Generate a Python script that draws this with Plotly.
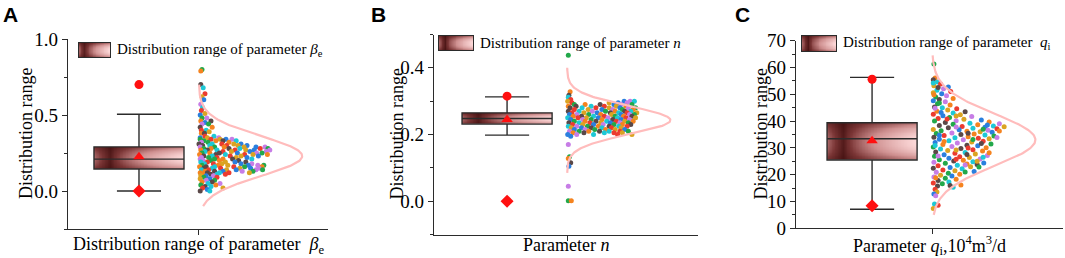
import numpy as np
import plotly.graph_objects as go

# ---------------- data ----------------
panel_letters = ["A", "B", "C"]
legend_texts = [
    "Distribution range of parameter <i>β</i><sub>e</sub>",
    "Distribution range of parameter <i>n</i>",
    "Distribution range of parameter  <i>q</i><sub>i</sub>",
]
x_titles = [
    "Distribution range of parameter  <i>β</i><sub>e</sub>",
    "Parameter <i>n</i>",
    "Parameter <i>q</i><sub>i</sub>,10<sup>4</sup>m<sup>3</sup>/d",
]
y_title = "Distribution range"

# box statistics per panel (A, B, C)
box_q1 = [0.145, 0.231, 25.5]
box_median = [0.210, 0.248, 33.4]
box_q3 = [0.290, 0.265, 39.4]
box_low = [0.000, 0.198, 7.1]
box_high = [0.505, 0.313, 56.3]
mean_vals = [0.225, 0.245, 32.7]
max_vals = [0.700, 0.315, 55.6]
min_vals = [0.000, 0.000, 8.4]

# fitted normal curve parameters per panel
fit_mean = [0.23, 0.243, 33.0]
fit_sd = [0.13, 0.042, 9.7]
fit_lo = [-0.10, 0.085, 5.0]
fit_hi = [0.70, 0.40, 64.5]

# y tick setup per panel
y_ranges = [[-0.25, 1.0], [-0.1, 0.5], [0, 70]]
y_dtick = [0.5, 0.2, 10]
y_minor = [0.25, 0.1, 5]
y_fmt = [".1f", ".1f", "d"]

# scattered samples (A, B): value levels and horizontal jitter offsets at each level
a_levels = [0.80, 0.79, 0.70, 0.68, 0.64, 0.62, 0.60, 0.57, 0.55, 0.53, 0.51, 0.50,
            0.48, 0.46, 0.45, 0.44, 0.42, 0.40, 0.39, 0.38, 0.36, 0.35,
            0.34, 0.33, 0.32, 0.31, 0.30, 0.29, 0.28, 0.27, 0.26, 0.25, 0.24,
            0.23, 0.22, 0.21, 0.20, 0.19, 0.18, 0.17, 0.16, 0.15, 0.14, 0.13,
            0.12, 0.11, 0.10, 0.09, 0.08, 0.07, 0.06, 0.05, 0.04, 0.03, 0.02,
            0.01, 0.00]
a_offsets = [[0.05], [0.03], [0.03], [0.07], [0.10], [0.05], [0.08], [0.03], [0.06], [0.04], [0.10], [0.02],
             [0.13, 0.05], [0.03, 0.20], [0.10], [0.05, 0.16], [0.22, 0.02], [0.12, 0.04], [0.17], [0.04, 0.09],
             [0.25, 0.10], [0.14, 0.02, 0.33],
             [0.02, 0.20, 0.35, 0.45, 0.55],
             [0.08, 0.28, 0.40, 0.62],
             [0.04, 0.15, 0.50],
             [0.00, 0.22, 0.38, 0.58, 0.70],
             [0.06, 0.18, 0.46, 0.65, 0.80],
             [0.02, 0.26, 0.42, 0.75, 0.95, 1.10],
             [0.08, 0.20, 0.50, 0.68, 1.02, 1.15],
             [0.03, 0.14, 0.30, 0.60, 0.78, 0.92, 1.18],
             [0.10, 0.40, 0.54, 0.85, 1.12],
             [0.05, 0.18, 0.34, 0.64, 0.96, 1.05],
             [0.01, 0.28, 0.44, 0.76, 0.90, 1.14],
             [0.08, 0.22, 0.52, 0.70, 0.99],
             [0.04, 0.16, 0.30, 0.62, 0.80],
             [0.02, 0.26, 0.40, 0.56, 0.88],
             [0.07, 0.20, 0.34, 0.66],
             [0.03, 0.14, 0.44, 0.60, 0.78],
             [0.09, 0.24, 0.38, 0.70, 0.88],
             [0.05, 0.32, 0.48, 0.82, 0.98, 1.08],
             [0.01, 0.12, 0.26, 0.58, 0.76, 1.05],
             [0.08, 0.22, 0.36, 0.68, 0.86, 1.00],
             [0.04, 0.16, 0.46, 0.62, 0.95, 1.06],
             [0.10, 0.26, 0.40, 0.72, 0.90],
             [0.02, 0.14, 0.34, 0.50, 0.84],
             [0.06, 0.20, 0.30, 0.44],
             [0.03, 0.12, 0.24],
             [0.08, 0.30], [0.02, 0.18], [0.12, 0.26], [0.05, 0.22], [0.15, 0.35],
             [0.03, 0.28], [0.10, 0.20], [0.06, 0.40], [0.14], [0.02, 0.18]]

b_levels = [0.438, 0.328, 0.318, 0.312, 0.305, 0.300, 0.295, 0.290, 0.285, 0.280,
            0.275, 0.270, 0.265, 0.260, 0.255, 0.250, 0.245, 0.240, 0.235, 0.230,
            0.225, 0.220, 0.215, 0.210, 0.205, 0.200, 0.195, 0.170, 0.133, 0.128,
            0.115, 0.105, 0.045, 0.001]
b_offsets = [[0.02], [0.05], [0.03], [0.02], [0.06],
             [0.01, 0.95, 1.05, 1.12],
             [0.08, 0.70, 0.85, 1.00],
             [0.12, 0.30, 0.55, 0.78, 0.90, 1.08],
             [0.02, 0.15, 0.40, 0.62, 0.82, 0.98],
             [0.05, 0.25, 0.48, 0.70, 0.88, 1.02, 1.14],
             [0.12, 0.35, 0.58, 0.76, 0.92, 1.10],
             [0.02, 0.20, 0.42, 0.64, 0.80, 0.96, 1.06],
             [0.08, 0.28, 0.50, 0.72, 0.86, 1.00, 1.16],
             [0.04, 0.16, 0.36, 0.56, 0.74, 0.90, 1.04, 1.12],
             [0.10, 0.24, 0.44, 0.62, 0.80, 0.94, 1.08],
             [0.01, 0.18, 0.32, 0.52, 0.68, 0.84, 0.98, 1.14],
             [0.06, 0.26, 0.40, 0.58, 0.76, 0.90, 1.04],
             [0.12, 0.30, 0.48, 0.66, 0.82, 0.96, 1.10],
             [0.03, 0.20, 0.38, 0.56, 0.72, 0.88, 1.02],
             [0.09, 0.26, 0.44, 0.60, 0.78, 0.92, 1.06],
             [0.02, 0.16, 0.34, 0.52, 0.70, 0.86, 1.00],
             [0.07, 0.24, 0.40, 0.58, 0.74, 0.90],
             [0.12, 0.30, 0.46, 0.64, 0.80, 0.96],
             [0.04, 0.20, 0.36, 0.54, 0.70, 0.88, 1.02],
             [0.10, 0.28, 0.62, 0.78, 0.92],
             [0.01, 0.16, 0.44, 0.84, 1.08],
             [0.06], [0.02], [0.04], [0.02], [0.06], [0.03], [0.02], [0.02, 0.07]]

# scattered samples (C): one value and one horizontal jitter per point
c_values = [61.3, 56.1, 55.4, 54.6, 53.8, 53.2, 52.7, 52.1, 51.5, 51.0, 50.6, 50.2, 49.5, 49.0,
            48.4, 48.1, 47.6, 47.2, 46.5, 46.0, 45.3, 45.0, 44.6, 44.1, 43.7, 43.5, 43.0, 42.6,
            42.4, 42.0, 41.7, 41.3, 41.0, 40.7, 40.4, 40.1, 40.0, 39.7, 39.5, 39.2, 39.0, 38.8,
            38.6, 38.4, 38.2, 38.0, 37.9, 37.7, 37.5, 37.3, 37.1, 36.9, 36.8, 36.6, 36.4, 36.2,
            36.0, 35.8, 35.6, 35.4, 35.2, 35.0, 34.8, 34.6, 34.4, 34.2, 34.0, 33.8, 33.6, 33.4,
            33.2, 33.0, 32.7, 32.5, 32.2, 32.0, 31.8, 31.5, 31.3, 31.0, 30.8, 30.5, 30.3, 30.1,
            29.8, 29.6, 29.3, 29.0, 28.8, 28.5, 28.3, 28.0, 27.7, 27.4, 27.2, 26.9, 26.7, 26.4,
            26.1, 25.9, 25.6, 25.4, 25.1, 24.8, 24.6, 24.3, 24.0, 23.8, 23.5, 23.3, 23.0, 22.7,
            22.4, 22.2, 21.8, 21.5, 21.2, 20.9, 20.5, 20.2, 19.8, 19.5, 19.1, 18.7, 18.3, 17.8,
            17.3, 16.9, 16.6, 16.2, 15.8, 15.3, 14.6, 13.5, 12.8, 12.1, 9.1, 8.6, 7.4,
            38.5, 37.8, 37.0, 36.3, 35.5, 34.7, 33.9, 33.1, 32.4, 31.6, 30.9, 30.0, 29.2, 28.2,
            27.5, 26.5, 25.8, 25.0, 24.4, 23.6, 22.9, 40.8, 41.9, 43.2, 44.8, 46.8, 49.8, 52.5,
            54.2, 27.0, 21.0, 18.9, 16.0]
c_jitter = [0.03, 0.05, 0.02, 0.09, 0.14, 0.03, 0.27, 0.19, 0.08, 0.31, 0.02, 0.16, 0.24, 0.06,
            0.35, 0.12, 0.02, 0.22, 0.09, 0.30, 0.04, 0.17, 0.41, 0.26, 0.08, 0.55, 0.35, 0.02,
            0.47, 0.18, 0.66, 0.29, 0.10, 0.53, 0.82, 0.40, 0.04, 0.95, 0.22, 0.63, 1.12, 0.35,
            0.76, 0.12, 1.02, 0.50, 1.20, 0.88, 0.27, 0.68, 1.08, 0.02, 0.45, 0.93, 0.15, 0.58,
            0.80, 1.00, 0.33, 0.07, 0.70, 0.48, 0.88, 0.20, 1.03, 0.60, 0.03, 0.38, 0.77, 0.95,
            0.12, 0.52, 0.28, 0.85, 0.66, 0.05, 0.42, 0.98, 0.18, 0.58, 0.76, 0.33, 0.02, 0.90,
            0.48, 0.14, 0.68, 0.26, 0.84, 0.06, 0.55, 0.38, 0.72, 0.20, 0.92, 0.04, 0.46, 0.62,
            0.28, 0.80, 0.12, 0.52, 0.36, 0.68, 0.03, 0.22, 0.58, 0.75, 0.42, 0.10, 0.64, 0.30,
            0.02, 0.50, 0.18, 0.38, 0.70, 0.07, 0.27, 0.46, 0.14, 0.33, 0.03, 0.22, 0.40, 0.10,
            0.28, 0.02, 0.17, 0.48, 0.09, 0.35, 0.05, 0.08, 0.03, 0.06, 0.04, 0.10, 0.02,
            0.92, 0.40, 0.85, 1.12, 0.60, 0.12, 1.08, 0.68, 0.20, 0.82, 0.05, 0.60, 0.40, 0.95,
            0.58, 0.85, 0.40, 0.75, 0.86, 0.55, 0.78, 0.25, 0.40, 0.15, 0.05, 0.12, 0.03, 0.10,
            0.02, 0.10, 0.55, 0.06, 0.30]


def flatten(levels, offsets):
    vals, jit = [], []
    for lvl, offs in zip(levels, offsets):
        for o in offs:
            vals.append(lvl)
            jit.append(o)
    return vals, jit


a_values, a_jitter = flatten(a_levels, a_offsets)
b_values, b_jitter = flatten(b_levels, b_offsets)
sample_values = [a_values, b_values, c_values]
sample_jitter = [a_jitter, b_jitter, c_jitter]

# ---------------- layout / style ----------------
W, H = 1065, 258
SERIF = "Liberation Serif"
AXC = "#2b2b2b"
palette = ["#22a84a", "#1ec8d6", "#2a7fde", "#f5831f", "#ec3b2f", "#c77de6", "#5a4848", "#dba322"]
grad_scale = [[0.0, "#3a0a0a"], [0.3, "#7a3535"], [0.62, "#cf9090"], [1.0, "#ffdcdc"]]

# plot-area pixel boxes: (left, right, top, bottom)
plot_px = [(68, 328, 39, 229), (434, 698, 34.5, 234.5), (796, 1063, 40.7, 228.3)]
x_ranges = [[-1.183, 3.15], [-1.217, 3.18], [-1.267, 3.18]]
swatch_px = [(79, 110, 43, 57), (439, 473, 36, 50), (802, 836, 36, 51)]
legend_text_px = [(115, 50), (478, 43), (841, 43)]
letter_px = [1, 369, 733]
ytitle_px = [26, 396, 760]
BOX_W = 1.5
AMP = 1.72


def gradient(nx=60, ny=24):
    tx = np.linspace(0, 1, nx)
    ty = np.linspace(0, 1, ny)
    fx = np.where(tx < 0.18, 0.4 * (0.18 - tx) / 0.18, ((tx - 0.18) / 0.82) ** 0.6)
    gy = 1 - 0.45 * np.abs(2 * ty - 1) ** 2
    z = np.outer(gy, 0.1 + 0.9 * fx)
    return tx, ty, z


fig = go.Figure()
for i in range(3):
    sfx = "" if i == 0 else str(i + 1)
    xa, ya = "x" + sfx, "y" + sfx
    # gradient fill of the box
    tx, ty, z = gradient()
    nx, ny = len(tx), len(ty)
    dxc = BOX_W / nx
    dyc = (box_q3[i] - box_q1[i]) / ny
    xs = -BOX_W / 2 + dxc / 2 + tx * (BOX_W - dxc)
    ys = box_q1[i] + dyc / 2 + ty * (box_q3[i] - box_q1[i] - dyc)
    fig.add_trace(go.Heatmap(x=xs, y=ys, z=z, colorscale=grad_scale, zmin=0, zmax=1,
                             showscale=False, zsmooth="best", hoverinfo="skip",
                             xaxis=xa, yaxis=ya))
    fig.add_trace(go.Box(x=[0], q1=[box_q1[i]], median=[box_median[i]], q3=[box_q3[i]],
                         lowerfence=[box_low[i]], upperfence=[box_high[i]],
                         width=BOX_W, whiskerwidth=0.49, fillcolor="rgba(0,0,0,0)",
                         line=dict(color=AXC, width=1.4), boxpoints=False,
                         showlegend=False, xaxis=xa, yaxis=ya))
    # red markers: max, mean, min
    fig.add_trace(go.Scatter(x=[0], y=[max_vals[i]], mode="markers",
                             marker=dict(symbol="circle", size=9, color="#ff1010"),
                             showlegend=False, xaxis=xa, yaxis=ya))
    fig.add_trace(go.Scatter(x=[0], y=[mean_vals[i]], mode="markers",
                             marker=dict(symbol="triangle-up", size=10, color="#ff1010"),
                             showlegend=False, xaxis=xa, yaxis=ya))
    fig.add_trace(go.Scatter(x=[0], y=[min_vals[i]], mode="markers",
                             marker=dict(symbol="diamond", size=10, color="#ff1010"),
                             showlegend=False, xaxis=xa, yaxis=ya))
    # scattered samples
    jit = sample_jitter[i]
    px_ = [1 + o for o in jit]
    cols = [palette[(k * 3 + k // 8) % len(palette)] for k in range(len(px_))]
    fig.add_trace(go.Scatter(x=px_, y=sample_values[i], mode="markers",
                             marker=dict(size=5, color=cols, line=dict(width=0)),
                             showlegend=False, xaxis=xa, yaxis=ya))
    # fitted normal curve
    yy = np.linspace(fit_lo[i], fit_hi[i], 200)
    xx = 1 + AMP * np.exp(-((yy - fit_mean[i]) ** 2) / (2 * fit_sd[i] ** 2))
    fig.add_trace(go.Scatter(x=xx, y=yy, mode="lines",
                             line=dict(color="#ffbcbc", width=2.2),
                             showlegend=False, xaxis=xa, yaxis=ya))

    # legend swatch on its own small axes
    sx = str(i + 4)
    sx0, sx1, sy0, sy1 = swatch_px[i]
    tx2, ty2, z2 = gradient(40, 14)
    fig.add_trace(go.Heatmap(x=tx2, y=ty2, z=z2, colorscale=grad_scale, zmin=0, zmax=1,
                             showscale=False, zsmooth="best", hoverinfo="skip",
                             xaxis="x" + sx, yaxis="y" + sx))
    fig.update_layout(**{
        "xaxis" + sx: dict(domain=[sx0 / W, sx1 / W], range=[0, 1], showline=True, mirror=True,
                           linecolor=AXC, linewidth=1.2, showticklabels=False, ticks="",
                           showgrid=False, zeroline=False, anchor="y" + sx, fixedrange=True,
                           automargin=False),
        "yaxis" + sx: dict(domain=[1 - sy1 / H, 1 - sy0 / H], range=[0, 1], showline=True,
                           mirror=True, linecolor=AXC, linewidth=1.2, showticklabels=False,
                           ticks="", showgrid=False, zeroline=False, anchor="x" + sx,
                           fixedrange=True, automargin=False),
    })

    l, r, t, b = plot_px[i]
    fig.update_layout(**{
        "xaxis" + sfx: dict(domain=[l / W, r / W], range=x_ranges[i], anchor=ya,
                            showline=True, linecolor=AXC, linewidth=1.3, ticks="outside",
                            ticklen=5, tickwidth=1.3, tickcolor=AXC, tickmode="array",
                            tickvals=[1], showticklabels=False, showgrid=False,
                            zeroline=False, automargin=False),
        "yaxis" + sfx: dict(domain=[1 - b / H, 1 - t / H], range=y_ranges[i], anchor=xa,
                            showline=True, linecolor=AXC, linewidth=1.3, ticks="outside",
                            ticklen=5, tickwidth=1.3, tickcolor=AXC, dtick=y_dtick[i],
                            tick0=0, tickformat=y_fmt[i], showgrid=False, zeroline=False,
                            automargin=False,
                            tickfont=dict(family=SERIF, size=19, color="black"),
                            minor=dict(dtick=y_minor[i], tick0=0, ticks="outside", ticklen=3,
                                       tickwidth=1.2, tickcolor=AXC, showgrid=False)),
    })

annotations = []
for i in range(3):
    l, r, t, b = plot_px[i]
    annotations.append(dict(text=x_titles[i], x=(l + r) / 2 / W, y=1 - 245 / H, xref="paper",
                            yref="paper", showarrow=False, xanchor="center", yanchor="middle",
                            font=dict(family=SERIF, size=18, color="black")))
    annotations.append(dict(text=y_title, x=ytitle_px[i] / W, y=1 - (t + b) / 2 / H,
                            xref="paper", yref="paper", showarrow=False, textangle=-90,
                            xanchor="center", yanchor="middle",
                            font=dict(family=SERIF, size=18, color="black")))
    lx, ly = legend_text_px[i]
    annotations.append(dict(text=legend_texts[i], x=lx / W, y=1 - ly / H, xref="paper",
                            yref="paper", showarrow=False, xanchor="left", yanchor="middle",
                            font=dict(family=SERIF, size=15, color="black")))
    annotations.append(dict(text="<b>" + panel_letters[i] + "</b>", x=letter_px[i] / W,
                            y=1 - 1 / H, xref="paper", yref="paper", showarrow=False,
                            xanchor="left", yanchor="top",
                            font=dict(family="Liberation Sans", size=21, color="black")))

fig.update_layout(width=W, height=H, margin=dict(l=0, r=0, t=0, b=0),
                  paper_bgcolor="white", plot_bgcolor="white", showlegend=False,
                  annotations=annotations)
fig.write_html("out.html", config={"displayModeBar": False},
               post_script="document.body.style.margin='0';document.body.style.padding='0';")
